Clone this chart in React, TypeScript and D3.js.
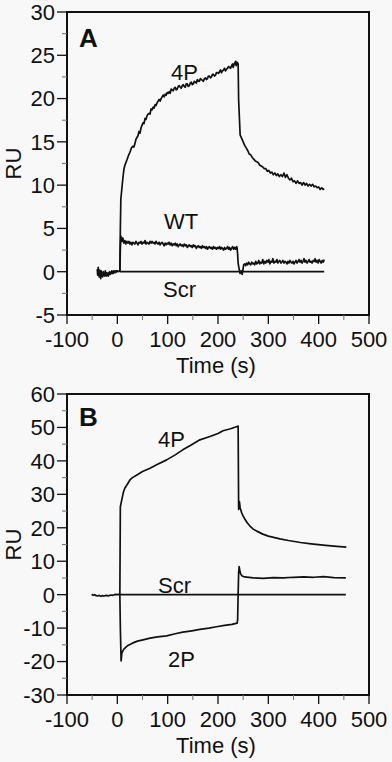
import React from "react";
import * as d3 from "d3";

// ---------- DATA ----------
const xTickValues = [-100, 0, 100, 200, 300, 400, 500];
const yTickValuesA = [-5, 0, 5, 10, 15, 20, 25, 30];
const yTickValuesB = [-30, -20, -10, 0, 10, 20, 30, 40, 50, 60];

// Panel A: pre-injection baseline (shared)
const baselineA: [number, number][] = [
  [-40, 0.3], [-39, -0.4], [-38, 0.5], [-37, -0.2], [-36, -0.6], [-35, 0.2], [-34, -0.3], [-33, -0.8], [-32, 0.1],
  [-31, -0.5], [-30, -0.2], [-29, -0.6], [-28, 0.0], [-27, -0.4], [-26, -0.3], [-25, -0.5], [-24, 0.1], [-23, -0.3],
  [-22, -0.5], [-21, -0.1], [-20, -0.4], [-19, -0.2], [-18, -0.5], [-17, -0.1], [-16, -0.3], [-15, 0.0], [-14, -0.3],
  [-13, -0.1], [-12, -0.2], [-11, 0.1], [-10, -0.2], [-9, 0.0], [-8, -0.2], [-7, 0.1], [-6, -0.1], [-5, 0.0],
  [-4, 0.1], [-3, -0.1], [-2, 0.1], [-1, 0.0], [0, 0.1], [2, 0.0], [4, 0.1], [5, 0.0],
];

const fourPA: [number, number][] = [
  [5, 0.1], [6, 5.0], [7, 8.4], [9, 9.6], [11, 10.8], [13, 11.8], [15, 12.3], [17, 12.6], [19, 12.9], [22, 13.4],
  [25, 13.8], [28, 14.3], [31, 14.5], [33, 14.4], [35, 14.8], [37, 15.3], [39, 15.5], [41, 15.7], [43, 16.2],
  [45, 16.0], [47, 16.6], [49, 16.9], [51, 17.2], [53, 17.1], [55, 17.7], [57, 17.6], [59, 18.0], [61, 18.2],
  [63, 18.3], [65, 18.2], [67, 18.8], [69, 18.7], [71, 19.0], [73, 18.9], [75, 19.3], [77, 19.2], [79, 19.5],
  [81, 19.7], [83, 19.9], [85, 19.7], [87, 20.0], [89, 20.2], [91, 20.4], [93, 20.2], [95, 20.5], [97, 20.4],
  [99, 20.7], [101, 20.6], [103, 20.8], [105, 20.6], [107, 21.1], [109, 21.0], [111, 20.9], [113, 21.2],
  [115, 21.3], [117, 21.0], [119, 21.1], [121, 21.4], [123, 21.5], [125, 21.3], [127, 21.2], [129, 21.5],
  [131, 21.6], [133, 21.4], [135, 21.3], [137, 21.7], [139, 21.7], [141, 21.4], [143, 21.5], [145, 21.8],
  [147, 21.9], [149, 21.6], [151, 21.7], [153, 22.0], [155, 21.9], [157, 21.8], [159, 22.2], [161, 22.0],
  [163, 22.0], [165, 22.3], [167, 22.2], [169, 22.1], [171, 22.0], [173, 22.3], [175, 22.4], [177, 22.2],
  [179, 22.3], [181, 22.6], [183, 22.6], [185, 22.4], [187, 22.5], [189, 22.8], [191, 22.8], [193, 22.6],
  [195, 22.7], [197, 23.0], [199, 23.0], [201, 22.9], [203, 23.1], [205, 23.3], [207, 23.0], [209, 23.2],
  [211, 23.3], [213, 23.5], [215, 23.2], [217, 23.4], [219, 23.5], [221, 23.7], [223, 23.6], [225, 23.5],
  [227, 23.8], [229, 24.0], [230, 23.6], [232, 23.9], [233, 24.1], [235, 24.3], [236, 23.8], [238, 24.2],
  [240, 24.0], [241, 19.8], [244, 15.8], [247, 15.4], [250, 15.0], [253, 14.6], [256, 14.3], [259, 14.0],
  [262, 13.6], [265, 13.5], [268, 13.2], [271, 13.0], [274, 12.8], [277, 12.7], [280, 12.6], [283, 12.3],
  [286, 12.2], [289, 12.1], [292, 11.9], [295, 11.9], [298, 11.6], [301, 11.7], [304, 11.4], [307, 11.5],
  [310, 11.2], [313, 11.4], [316, 11.1], [319, 11.3], [322, 11.0], [325, 11.2], [328, 11.0], [331, 11.4],
  [334, 10.9], [337, 11.2], [340, 10.8], [343, 10.6], [346, 10.8], [349, 10.4], [352, 10.5], [355, 10.2],
  [358, 10.5], [361, 10.2], [364, 10.3], [367, 10.0], [370, 10.3], [373, 10.0], [376, 10.2], [379, 9.9],
  [382, 10.1], [385, 9.9], [388, 10.1], [391, 9.8], [394, 9.9], [397, 9.7], [400, 9.8], [403, 9.5], [406, 9.7],
  [409, 9.5], [411, 9.6],
];

const wtA: [number, number][] = [
  [5, 0], [6, 2.6], [7, 4.1], [9, 3.5], [11, 3.9], [13, 3.3], [15, 3.6], [17, 3.2], [19, 3.5], [21, 3.3], [23, 3.5],
  [25, 3.2], [27, 3.4], [29, 3.1], [31, 3.4], [33, 3.3], [35, 3.2], [37, 3.5], [39, 3.3], [41, 3.1], [43, 3.4],
  [45, 3.3], [47, 3.5], [49, 3.2], [51, 3.4], [53, 3.3], [55, 3.6], [57, 3.2], [59, 3.4], [61, 3.3], [63, 3.2],
  [65, 3.5], [67, 3.3], [69, 3.5], [71, 3.3], [73, 3.4], [75, 3.2], [77, 3.5], [79, 3.3], [81, 3.2], [83, 3.4],
  [85, 3.1], [87, 3.3], [89, 3.4], [91, 3.2], [93, 3.0], [95, 3.3], [97, 3.1], [99, 3.3], [101, 3.2], [103, 3.4],
  [105, 3.1], [107, 3.3], [109, 3.0], [111, 3.2], [113, 3.1], [115, 3.3], [117, 3.0], [119, 3.2], [121, 2.9],
  [123, 3.1], [125, 3.2], [127, 3.0], [129, 3.1], [131, 2.9], [133, 3.2], [135, 3.0], [137, 3.1], [139, 2.8],
  [141, 3.0], [143, 3.1], [145, 2.9], [147, 3.0], [149, 2.8], [151, 3.1], [153, 2.9], [155, 3.0], [157, 2.7],
  [159, 2.9], [161, 3.0], [163, 2.8], [165, 2.9], [167, 2.7], [169, 3.0], [171, 2.8], [173, 2.9], [175, 2.7],
  [177, 2.9], [179, 2.6], [181, 2.8], [183, 2.9], [185, 2.7], [187, 2.8], [189, 2.6], [191, 2.9], [193, 2.7],
  [195, 2.8], [197, 2.6], [199, 2.8], [201, 2.7], [203, 2.9], [205, 2.6], [207, 2.8], [209, 2.7], [211, 2.5],
  [213, 2.8], [215, 2.6], [217, 2.7], [219, 2.9], [221, 2.6], [223, 2.8], [225, 2.5], [227, 2.7], [229, 2.9],
  [231, 2.6], [233, 2.8], [235, 2.6], [237, 2.9], [238, 2.7], [239, 2.0], [240, 1.0], [242, 0.3], [244, -0.2],
  [246, 0.1], [248, -0.3], [250, 0.4], [251, 0.8], [253, 0.9], [255, 0.7], [257, 1.0], [259, 0.8], [261, 1.1],
  [263, 0.9], [265, 0.8], [267, 1.1], [269, 0.9], [271, 1.0], [273, 0.8], [275, 1.2], [277, 0.9], [279, 1.0],
  [281, 1.3], [283, 0.9], [285, 1.1], [287, 1.0], [289, 1.4], [291, 0.9], [293, 1.2], [295, 1.0], [297, 1.3],
  [299, 1.1], [301, 1.4], [303, 0.9], [305, 1.2], [307, 1.1], [309, 1.5], [311, 1.0], [313, 1.2], [315, 1.1],
  [317, 1.4], [319, 1.0], [321, 1.2], [323, 1.3], [325, 1.0], [327, 1.1], [329, 1.3], [331, 1.0], [333, 1.2],
  [335, 1.1], [337, 0.9], [339, 1.2], [341, 1.0], [343, 1.3], [345, 1.1], [347, 1.0], [349, 1.2], [351, 0.9],
  [353, 1.1], [355, 1.3], [357, 1.0], [359, 1.2], [361, 1.4], [363, 1.1], [365, 1.3], [367, 1.0], [369, 1.2],
  [371, 1.5], [373, 1.1], [375, 1.3], [377, 1.0], [379, 1.2], [381, 1.4], [383, 1.1], [385, 1.2], [387, 1.0],
  [389, 1.3], [391, 1.2], [393, 1.5], [395, 1.1], [397, 1.3], [399, 1.0], [401, 1.4], [403, 1.2], [405, 1.0],
  [407, 1.3], [409, 1.1], [411, 1.4],
];

const scrA: [number, number][] = [[5, 0], [411, 0]];

// Panel B
const baselineB: [number, number][] = [
  [-51, 0.1], [-48, -0.2], [-45, 0.0], [-42, -0.3], [-39, -0.4], [-36, -0.2], [-33, -0.5], [-30, -0.3], [-27, -0.4],
  [-24, -0.3], [-21, -0.2], [-18, -0.4], [-15, -0.2], [-12, -0.1], [-9, -0.2], [-6, 0.0], [-3, 0.1], [0, 0.0],
  [3, 0.1], [5, 0.0],
];

const fourPB: [number, number][] = [
  [5, 0], [6, 26.3], [9, 28.5], [12, 30.6], [15, 31.9], [20, 33.0], [25, 34.3], [30, 35.0], [39, 35.8], [50, 36.8],
  [65, 37.8], [80, 39.0], [98, 40.3], [115, 41.8], [130, 43.3], [145, 44.6], [164, 46.3], [184, 47.3],
  [200, 48.2], [210, 49.0], [225, 49.6], [238, 50.3], [240, 50.4], [241, 25.5], [242.5, 27.8], [244, 26.0],
  [247, 24.5], [250, 23.5], [253, 22.7], [258, 21.5], [263, 20.6], [270, 19.6], [277, 19.0], [289, 18.1],
  [300, 17.5], [323, 16.7], [340, 16.2], [364, 15.6], [385, 15.2], [409, 14.8], [430, 14.5], [455, 14.2],
];

const twoPB: [number, number][] = [
  [5, 0], [6, -10], [7.5, -19.8], [9, -17.5], [11, -16.8], [13, -16.3], [17, -15.7], [22, -15.1], [30, -14.5],
  [40, -13.9], [51, -13.5], [65, -13.0], [80, -12.6], [98, -12.3], [115, -11.7], [130, -11.2], [148, -10.8],
  [164, -10.4], [182, -10.0], [197, -9.6], [213, -9.2], [228, -8.9], [238, -8.5], [239, -7.5], [240, 0],
  [241, 6.5], [242, 8.4], [243, 7.5], [245, 6.2], [248, 5.6], [253, 5.3], [270, 5.0], [290, 4.9], [310, 5.1],
  [330, 5.0], [350, 5.2], [370, 5.3], [390, 5.2], [410, 5.4], [430, 5.1], [454, 5.0],
];

const scrB: [number, number][] = [[5, 0], [454, 0]];

// ---------- LAYOUT ----------
const W = 392;
const H = 762;
const FONT = "'Liberation Sans', Arial, Helvetica, sans-serif";
const FS = 22;
const INK = "#111";

type Label = { text: string; x: number; y: number };

interface PanelProps {
  top: number;
  bottom: number;
  yDomain: [number, number];
  yTicks: number[];
  letter: string;
  letterY: number;
  series: [number, number][][];
  labels: Label[];
}

const LEFT = 67;
const RIGHT = 369;

function Panel({ top, bottom, yDomain, yTicks, letter, letterY, series, labels }: PanelProps) {
  const x = d3.scaleLinear().domain([-100, 500]).range([LEFT, RIGHT]);
  const y = d3.scaleLinear().domain(yDomain).range([bottom, top]);
  const line = d3
    .line<[number, number]>()
    .x((d) => x(d[0]))
    .y((d) => y(d[1]));
  const xStep = xTickValues[1] - xTickValues[0];
  const yStep = yTicks[1] - yTicks[0];
  const xMinor = xTickValues.slice(0, -1).map((v) => v + xStep / 2);
  const yMinor = yTicks.slice(0, -1).map((v) => v + yStep / 2);
  const midY = (top + bottom) / 2;
  const midX = (LEFT + RIGHT) / 2;
  return (
    <g>
      {series.map((s, i) => (
        <path key={i} d={line(s) || ""} fill="none" stroke={INK} strokeWidth={1.7} strokeLinejoin="round" />
      ))}
      <rect x={LEFT} y={top} width={RIGHT - LEFT} height={bottom - top} fill="none" stroke={INK} strokeWidth={2} />
      {yTicks.map((v) => (
        <g key={"y" + v}>
          <line x1={LEFT - 10} x2={LEFT} y1={y(v)} y2={y(v)} stroke={INK} strokeWidth={1.3} />
          <text x={55} y={y(v)} dy="0.36em" textAnchor="end" fontSize={FS} fontFamily={FONT} fill={INK}>
            {v}
          </text>
        </g>
      ))}
      {yMinor.map((v) => (
        <line key={"ym" + v} x1={LEFT - 5} x2={LEFT} y1={y(v)} y2={y(v)} stroke="#777" strokeWidth={1.1} />
      ))}
      {xTickValues.map((v) => (
        <g key={"x" + v}>
          <line x1={x(v)} x2={x(v)} y1={bottom} y2={bottom + 9} stroke={INK} strokeWidth={1.3} />
          <text x={x(v)} y={bottom + 32} textAnchor="middle" fontSize={FS} fontFamily={FONT} fill={INK}>
            {v}
          </text>
        </g>
      ))}
      {xMinor.map((v) => (
        <line key={"xm" + v} x1={x(v)} x2={x(v)} y1={bottom} y2={bottom + 5} stroke="#777" strokeWidth={1.1} />
      ))}
      <text x={midX - 2} y={bottom + 58} textAnchor="middle" fontSize={FS} fontFamily={FONT} fill={INK}>
        Time (s)
      </text>
      <text
        transform={`translate(21,${midY}) rotate(-90)`}
        textAnchor="middle"
        fontSize={FS}
        fontFamily={FONT}
        fill={INK}
      >
        RU
      </text>
      <text x={79} y={letterY} fontSize={26} fontWeight="bold" fontFamily={FONT} fill={INK}>
        {letter}
      </text>
      {labels.map((l) => (
        <text key={l.text} x={l.x} y={l.y} fontSize={FS} fontFamily={FONT} fill={INK}>
          {l.text}
        </text>
      ))}
    </g>
  );
}

export default function App() {
  return (
    <div style={{ position: "fixed", left: 0, top: 0, width: W, height: H, background: "#f8f8f8" }}>
      <svg width={W} height={H} viewBox={`0 0 ${W} ${H}`} style={{ display: "block", background: "#f8f8f8" }}>
        <Panel
          top={12}
          bottom={315}
          yDomain={[-5, 30]}
          yTicks={yTickValuesA}
          letter="A"
          letterY={47}
          series={[baselineA, scrA, wtA, fourPA]}
          labels={[
            { text: "4P", x: 171, y: 80 },
            { text: "WT", x: 164, y: 229 },
            { text: "Scr", x: 163, y: 297 },
          ]}
        />
        <Panel
          top={394}
          bottom={695}
          yDomain={[-30, 60]}
          yTicks={yTickValuesB}
          letter="B"
          letterY={426}
          series={[baselineB, scrB, twoPB, fourPB]}
          labels={[
            { text: "4P", x: 158, y: 447 },
            { text: "Scr", x: 158, y: 593 },
            { text: "2P", x: 168, y: 667 },
          ]}
        />
      </svg>
    </div>
  );
}
